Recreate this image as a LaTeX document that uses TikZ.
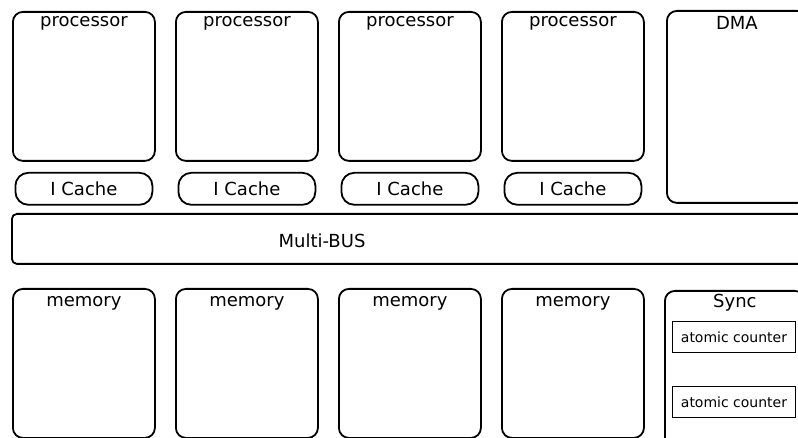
\documentclass[tikz,border=0pt]{standalone}
\usepackage{fontspec}
\setmainfont{DejaVu Sans}
\usetikzlibrary{positioning}

\tikzset{
  unit/.style={draw, line width=1.8bp, rounded corners=10bp, inner sep=0pt},
  cachebox/.style={unit, rounded corners=13bp, minimum width=137bp, minimum height=32bp,
    font=\fontsize{18bp}{21bp}\selectfont},
  counterbox/.style={draw, line width=1bp, inner sep=0pt, minimum width=123bp,
    minimum height=31bp, font=\fontsize{14bp}{16bp}\selectfont},
  lbl/.style={font=\fontsize{18bp}{21bp}\selectfont, inner sep=0pt, anchor=base},
}

\begin{document}
\begin{tikzpicture}[x=1bp,y=-1bp]
  \useasboundingbox (0,0) rectangle (798,438);

  % four columns: processor, its cache and a memory bank
  \foreach \i/\x in {1/12,2/175,3/338,4/501}{
    \node[unit, anchor=north west, minimum width=142bp, minimum height=149bp] (proc\i) at (\x,11) {};
    \node[lbl] (proctext\i) at ([yshift=-16bp]proc\i.north) {processor};
    \node[cachebox] (cache\i) at ([yshift=-27bp]proc\i.south) {I Cache};
    \node[unit, anchor=north west, minimum width=142bp, minimum height=149bp] (mem\i) at (\x,288) {};
    \node[lbl] (memtext\i) at ([yshift=-19bp]mem\i.north) {memory};
  }

  % DMA unit, cut at the right edge
  \node[unit, anchor=north west, minimum width=140bp, minimum height=192bp] (dma) at (666,10) {};
  \node[lbl] (dmatext) at ([yshift=-20bp]dma.north) {DMA};

  % the shared bus
  \node[unit, rounded corners=5bp, anchor=north west, minimum width=800bp, minimum height=50bp] (bus) at (11,213) {};
  \node[lbl] (bustext) at (322,248) {Multi-BUS};

  % sync unit with its two counters
  \node[unit, anchor=north west, minimum width=140bp, minimum height=170bp] (sync) at (664,290) {};
  \node[lbl] (synctext) at ([yshift=-18bp]sync.north) {Sync};
  \node[counterbox, anchor=north west] (ctr1) at (672,321) {atomic counter};
  \node[counterbox, anchor=north west] (ctr2) at (672,386) {atomic counter};
\end{tikzpicture}
\end{document}
